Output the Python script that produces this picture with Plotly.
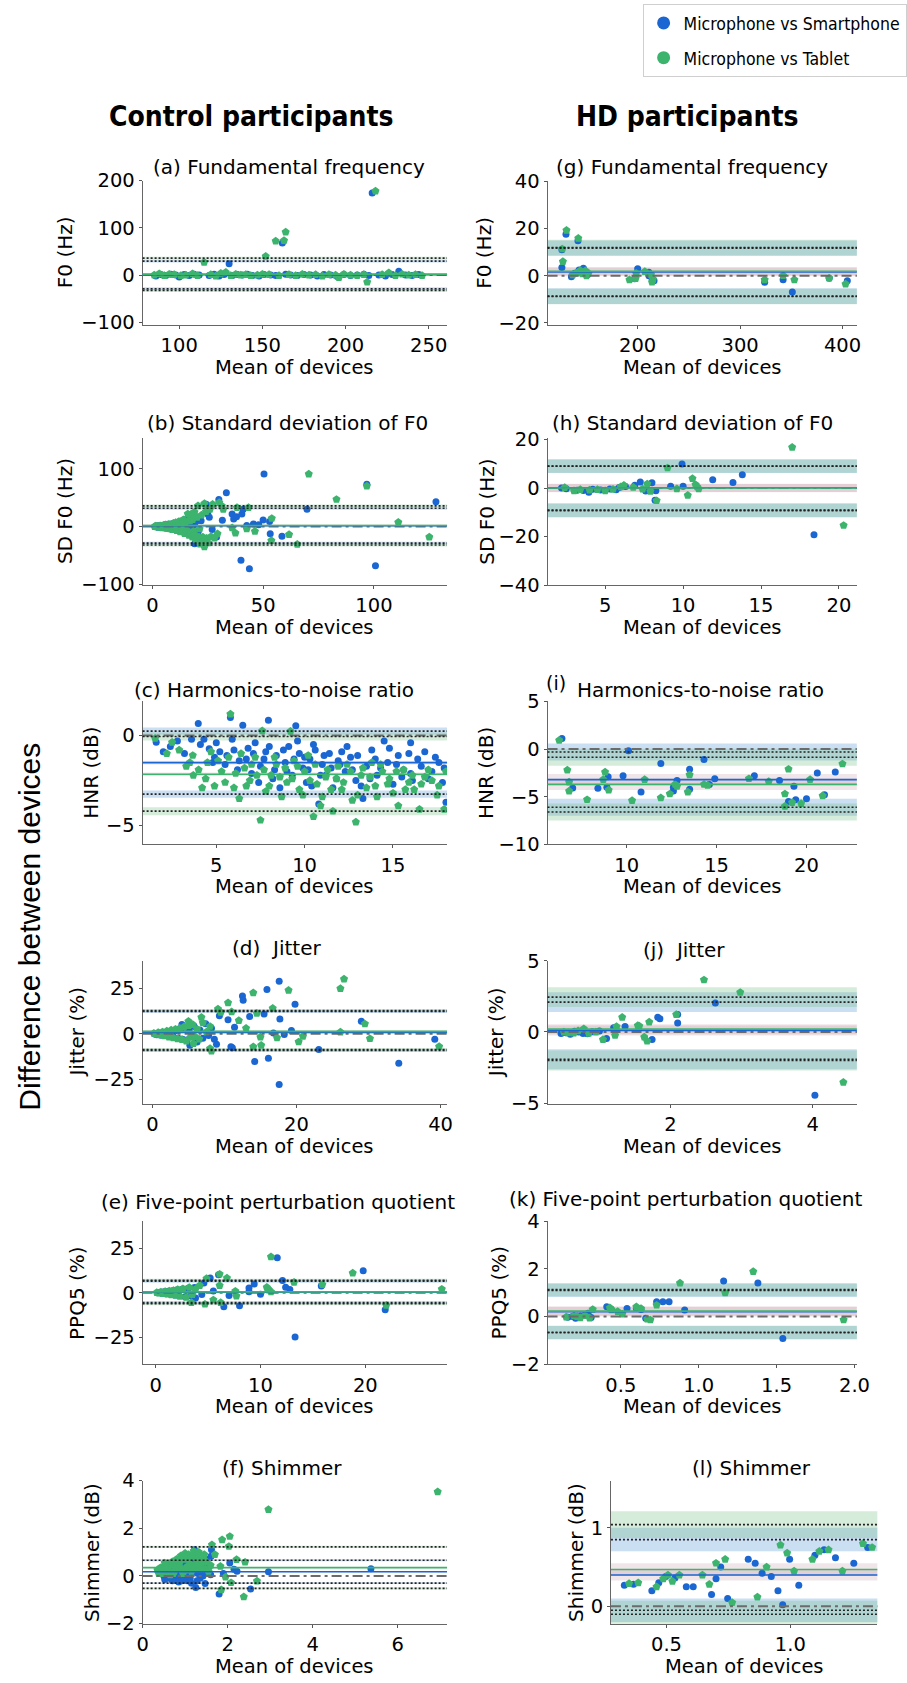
import plotly.graph_objects as go

# ---------------- DATA ----------------
# (mean of devices, difference) pairs; stats = [mean, lower LoA, upper LoA, CI half-width of mean, CI half-width of LoA]
a_smart = [(86,-2),(89,1),(92,-1),(95,2),(98,0),(100,-4),(103,1),(106,-1),(109,2),(112,0),(118,-1),(121,2),(124,-2),(127,1),(130,24),(132,-1),(135,1),(138,0),(141,2),(144,-1),(148,-2),(151,1),(155,0),(158,-1),(162,68),(164,2),(167,0),(171,-1),(175,1),(179,0),(183,-2),(187,1),(191,0),(195,-3),(199,1),(203,-1),(207,0),(211,2),(214,-1),(216,174),(220,0),(224,-2),(228,1),(232,8),(236,0),(240,-1),(244,1)]
a_tablet = [(85,0),(88,3),(91,-1),(94,2),(97,1),(101,-1),(104,0),(108,3),(111,-1),(115,27),(119,1),(122,-2),(125,4),(128,6),(131,-1),(134,2),(137,0),(140,1),(143,-1),(147,0),(150,2),(152,40),(154,1),(158,72),(160,-1),(163,73),(164,91),(166,1),(170,-1),(174,2),(178,0),(182,1),(186,-2),(190,1),(194,0),(196,-5),(199,2),(203,0),(207,-1),(211,1),(213,-15),(218,178),(222,1),(226,5),(230,-1),(234,2),(238,0),(242,1),(246,-1)]
a_smart_stats = [0.6, -29.0, 29.5, 1.8, 3.0]
a_tablet_stats = [2.0, -32.5, 36.0, 2.0, 3.0]

b_smart = [(1.5,0),(2,1),(2.2,-0.5),(2.5,-1),(3,0.5),(3.2,1),(3.5,2),(4,-1.5),(4.2,0.5),(4.5,1),(5,-2),(5.2,-1),(5.5,3),(6,0),(6.2,1.5),(6.5,-3),(7,4),(7.2,-2),(7.5,-1),(8,2),(8.2,-1),(8.5,-4),(9,5),(9.2,3),(9.5,1),(10,-3),(10.2,2),(10.5,6),(11,0),(11.2,-3),(11.5,-6),(12,8),(12.2,-2),(12.5,3),(13,-5),(13.2,4),(13.5,10),(14,-2),(14.2,-6),(14.5,12),(15,-8),(15.2,7),(15.5,4),(16,14),(16.2,-4),(16.5,-10),(17,6),(17.2,9),(17.5,-14),(18,16),(18.2,-9),(18.5,2),(19.1,-29.5),(19.2,6),(19.5,-20),(20,10),(20.5,-12),(21,-6),(21.5,14),(22,10),(22.5,-25),(23.5,-32),(24.3,38.6),(25,21.6),(25.7,16),(26,35),(27,-5),(29,-18),(30,47),(31.6,11),(33.4,58.5),(36,21.6),(36.7,13),(38,17),(40,-58),(40.4,21.6),(41,30),(42.6,1.7),(43.8,-73),(45.6,4.5),(48,3),(50,11.4),(50.4,91),(52.9,9),(53.2,-12.5),(58.5,-16.5),(69.8,30),(96.8,73),(100.7,-67.6),(128,43)]
b_tablet = [(1,0),(1.5,1),(2,-0.5),(2.2,0.8),(2.5,0.5),(3,-1),(3.2,-0.6),(3.5,1.5),(4,0),(4.2,1),(4.5,-2),(5,2),(5.2,-1.5),(5.5,-1),(6,3),(6.2,2),(6.5,-3),(7,1),(7.2,-2.5),(7.5,4),(8,-4),(8.2,3),(8.5,2),(9,-5),(9.2,-1),(9.5,6),(10,-2),(10.2,4),(10.5,7),(11,-7),(11.2,-4),(11.5,3),(12,9),(12.2,5),(12.5,-9),(13,5),(13.2,-7),(13.5,-4),(14,12),(14.2,6),(14.5,-12),(15,8),(15.2,-9),(15.5,-6),(16,22),(16.2,10),(16.5,-15),(17,10),(17.2,-11),(17.6,21.6),(18,-18),(18.2,12),(18.5,-8),(19,25),(19.2,-14),(19.5,-22),(20.2,16),(20.6,36),(21.2,-18),(21.3,-4),(21.5,-30),(22.2,20),(22.8,-18),(23.2,-24),(23.5,40),(23.5,-35),(24.2,26),(24.5,-20),(25.2,-28),(26,30),(26.5,-17),(27.2,38.6),(28,-20),(29.4,-12.5),(30.2,41.5),(31.3,35.8),(32,30),(36,-2),(37.5,-11),(38.2,33),(42.6,-4),(43.4,33),(46.3,-8),(53.7,-24),(53.9,14.2),(61.7,-13.6),(65.4,-30.7),(70.6,91),(83.1,47),(96.8,70),(111,7.4),(125,-18)]
b_smart_stats = [1.5, -28.5, 31.8, 1.5, 2.5]
b_tablet_stats = [2.0, -31.8, 35.8, 1.5, 2.5]

c_smart = [(1.6,-0.37),(2.0,-0.9),(2.4,-0.6),(2.8,-0.3),(3.2,-1.0),(3.6,-0.2),(3.98,0.68),(4.1,-0.5),(4.3,-0.2),(4.6,-0.73),(4.8,-1.5),(4.9,-1.2),(5.0,-0.4),(5.2,-0.9),(5.5,-1.6),(5.6,-1.1),(5.8,1.0),(5.9,-0.2),(6.0,-0.8),(6.2,-1.9),(6.3,-1.4),(6.5,0.58),(6.7,-1.3),(6.8,-0.7),(7.0,-2.1),(7.1,-1.0),(7.2,-0.4),(7.4,-2.6),(7.5,-1.7),(7.7,-1.3),(7.8,-0.9),(7.95,0.86),(8.0,-0.6),(8.2,-2.4),(8.3,-1.9),(8.4,-1.1),(8.6,-2.9),(8.8,-0.8),(8.9,-1.5),(9.0,-2.0),(9.1,-0.6),(9.3,-2.2),(9.4,-1.3),(9.5,0.55),(9.6,-0.3),(9.7,-1.0),(9.9,-1.8),(10.0,-1.2),(10.1,-2.6),(10.2,-1.9),(10.3,-1.3),(10.4,-2.8),(10.5,-0.5),(10.6,-0.8),(10.8,-3.8),(10.9,-2.2),(11.0,-1.6),(11.1,-1.1),(11.2,-2.2),(11.4,-1.0),(11.5,-1.8),(11.6,-2.9),(11.8,-2.4),(11.9,-1.4),(12.0,-1.6),(12.1,-0.9),(12.3,-2.0),(12.4,-0.6),(12.6,-1.2),(12.7,-1.9),(12.9,-2.5),(13.0,-1.1),(13.2,-2.8),(13.3,-3.5),(13.5,-1.7),(13.7,-2.4),(13.8,-0.8),(14.0,-1.3),(14.1,-2.2),(14.3,-1.8),(14.5,-0.3),(14.7,-1.5),(14.8,-0.7),(15.0,-2.7),(15.2,-1.6),(15.3,-1.1),(15.5,-2.3),(15.6,-1.9),(15.9,-1.0),(16.0,-0.4),(16.0,-2.1),(16.1,-2.5),(16.4,-1.3),(16.6,-1.7),(16.8,-0.9),(17.0,-2.4),(17.2,-2.0),(17.4,-1.2),(17.6,-1.5),(17.8,-2.6),(17.9,-1.8),(18.0,-3.7)]
c_tablet = [(1.54,-0.15),(2.2,-1.0),(2.5,-0.37),(2.9,-0.8),(3.3,-1.7),(3.5,-1.5),(3.67,-1.1),(3.7,-2.2),(4.0,-1.9),(4.2,-2.9),(4.4,-2.4),(4.5,-1.5),(4.7,-0.9),(4.9,-2.8),(5.1,-1.4),(5.3,-2.0),(5.5,-2.6),(5.7,-1.2),(5.8,1.2),(6.0,-2.9),(6.1,-2.1),(6.3,-3.5),(6.4,-1.0),(6.6,-1.8),(6.7,-2.8),(6.9,-2.5),(7.0,-1.6),(7.2,-1.2),(7.3,-2.2),(7.5,-4.7),(7.6,0.27),(7.7,-1.9),(7.8,-3.1),(8.0,-2.8),(8.1,-2.2),(8.3,-1.2),(8.4,-1.6),(8.6,-2.3),(8.7,-3.4),(8.9,-1.8),(9.0,-2.6),(9.2,0.24),(9.3,-2.4),(9.4,-1.4),(9.6,-1.7),(9.7,-3.0),(9.9,-3.3),(10.0,-2.0),(10.2,-1.1),(10.3,-2.5),(10.5,-4.5),(10.6,-1.6),(10.7,-2.7),(10.9,-3.9),(11.0,-3.4),(11.2,-2.3),(11.3,-1.9),(11.5,-3.0),(11.6,-4.2),(11.8,-2.4),(11.9,-1.7),(12.1,-3.0),(12.2,-2.6),(12.4,-1.6),(12.6,-2.0),(12.7,-3.6),(12.9,-4.8),(13.0,-3.3),(13.2,-2.2),(13.3,-1.8),(13.5,-2.9),(13.7,-2.3),(13.8,-1.5),(14.0,-2.8),(14.1,-3.4),(14.3,-1.6),(14.4,-2.0),(14.7,-2.7),(14.8,-2.4),(15.0,-3.2),(15.2,-2.0),(15.3,-3.9),(15.6,-1.9),(15.7,-3.0),(15.9,-2.6),(16.1,-2.2),(16.2,-3.0),(16.5,-4.1),(16.6,-2.7),(16.8,-2.3),(17.0,-1.9),(17.2,-2.5),(17.5,-3.3),(17.6,-2.8),(17.9,-4.1),(18.0,-2.0)]
c_smart_stats = [-1.5, -3.25, 0.25, 0.1, 0.2]
c_tablet_stats = [-2.15, -4.2, -0.05, 0.1, 0.22]

d_smart = [(0.3,0),(0.6,-0.5),(0.9,0.4),(1.2,-0.8),(1.5,0.6),(1.8,-1),(2.1,1.2),(2.4,-1.5),(2.7,0.8),(3,-2),(3.3,1.8),(3.6,-2.5),(3.9,2.5),(4.1,5),(4.2,-3),(4.5,3.5),(4.8,-3.5),(5.1,1.5),(5.2,-6.3),(5.5,-1),(5.8,4),(6.2,-4.5),(6.6,2),(7,-2.5),(7.4,5.5),(7.8,-1),(8.2,3),(8.6,-3),(8.9,-5.8),(9.3,9.9),(10.5,7.6),(10.9,-7.2),(11.1,-7.7),(11.4,3.6),(12.5,20.7),(12.6,18.4),(13.5,9.4),(14.2,-15.3),(15.5,10.8),(15.9,24.3),(16.1,-13.5),(16.8,0.4),(17.6,28.8),(17.6,-27.9),(17.7,8.1),(18.3,-0.4),(19.3,1.8),(19.8,16.2),(23.1,-8.6),(29,6.8),(34.2,-16.2),(39.2,-3)]
d_tablet = [(0.2,0.2),(0.5,-0.3),(0.8,0.6),(1.1,-0.6),(1.4,1),(1.7,-1.2),(2,1.5),(2.3,-1.8),(2.6,2),(2.9,-2.2),(3.2,2.5),(3.5,-2.8),(3.8,3),(4.1,-3.2),(4.4,3.8),(4.7,-4),(5,4.5),(5,6.8),(5.3,-2),(5.6,5),(5.7,-5.4),(5.9,-1.5),(6.2,2.5),(6.5,-3),(6.8,9),(7,6),(7.5,1),(8,4),(8,-8.1),(8.2,-9.5),(9.1,13.5),(9.5,11.8),(10.5,17),(11,12),(12,7.2),(13,3),(14,22.5),(14,-7.2),(14.5,11.2),(15,-1.8),(15.1,-6.3),(16.7,14),(17.3,-2.2),(18.9,23.8),(20.3,-4.5),(20.9,-1.4),(26.1,24.8),(26.1,0.9),(26.6,30),(29.5,5.4),(30.2,-2.7),(39.8,-7)]
d_smart_stats = [0.7, -9.2, 12.2, 0.6, 0.8]
d_tablet_stats = [1.3, -8.7, 12.7, 0.6, 0.8]

e_smart = [(0.2,0),(0.4,0.3),(0.6,-0.4),(0.8,0.5),(1.0,-0.6),(1.2,0.8),(1.4,-0.9),(1.6,1.1),(1.8,-1.2),(2.0,1.5),(2.2,-1.6),(2.5,2),(2.8,-2.2),(3.1,2.5),(3.4,-1.8),(3.7,3),(3.8,-3),(4.4,-1),(4.6,5.5),(5.2,8.2),(5.5,1),(6.0,10),(6.5,-7.9),(7.0,-1.5),(8,-7.3),(8.9,2.7),(8.9,0.5),(9.4,4.9),(10,-0.9),(11.6,19.6),(12.1,6.8),(12.4,3.1),(12.8,1.8),(13.3,-24.7),(15.8,3.7),(19.8,12.3),(21.9,-9.5)]
e_tablet = [(0.1,0.1),(0.3,-0.2),(0.5,0.4),(0.7,-0.5),(0.9,0.7),(1.1,-0.8),(1.3,1),(1.5,-1.1),(1.7,1.3),(1.9,-1.4),(2.1,1.8),(2.3,-2),(2.6,2.3),(2.9,-2.6),(3.2,3),(3.4,-5.5),(3.5,-1),(3.8,2),(4.2,4),(4.7,-6.4),(4.85,7.9),(5.5,-4),(6.1,10.4),(6.1,4),(6.2,-5.5),(6.8,8.2),(7.6,0.9),(7.7,-1.8),(10.6,3.1),(10.7,2.2),(10.8,1.5),(11.0,0.5),(11.0,20.1),(13.2,5.9),(15.9,4.6),(18.8,11),(22.0,-7),(27.3,2)]
e_smart_stats = [0.3, -5.5, 6.4, 0.4, 0.8]
e_tablet_stats = [0.5, -6.2, 7.0, 0.4, 0.8]

f_smart = [(0.4,0.2),(0.45,0.15),(0.5,0.0),(0.52,-0.15),(0.55,0.35),(0.58,0.1),(0.6,-0.1),(0.62,0.3),(0.65,0.25),(0.68,0.05),(0.7,-0.2),(0.72,0.35),(0.75,0.4),(0.78,-0.15),(0.8,0.05),(0.82,0.2),(0.85,-0.25),(0.88,0.05),(0.9,0.3),(0.92,-0.2),(0.95,-0.1),(0.98,0.25),(1.0,0.5),(1.02,0.05),(1.05,-0.2),(1.08,0.35),(1.1,0.2),(1.12,-0.1),(1.15,-0.3),(1.18,0.15),(1.2,0.6),(1.22,1.1),(1.25,-0.48),(1.28,-0.2),(1.3,0.1),(1.33,0.3),(1.35,-0.1),(1.4,0.4),(1.42,0),(1.45,0.15),(1.47,-0.32),(1.5,0.7),(1.55,0.35),(1.6,0.05),(1.61,0.83),(1.62,1.1),(1.8,-0.76),(1.9,0.1),(2.05,0.55),(2.15,0.28),(2.22,0.2),(2.54,-0.55),(2.96,0.18),(5.37,0.3)]
f_tablet = [(0.35,0.25),(0.38,0.1),(0.42,0.35),(0.45,0.1),(0.48,0.2),(0.5,0.4),(0.52,0.55),(0.55,0.15),(0.58,0.3),(0.6,0.5),(0.62,0.2),(0.65,0.05),(0.68,0.45),(0.7,0.6),(0.72,0.1),(0.75,0.2),(0.78,0.5),(0.8,0.7),(0.82,0.35),(0.85,0.3),(0.88,0.6),(0.9,0.85),(0.92,0.3),(0.95,0.1),(0.98,0.7),(1.0,0.95),(1.02,0.25),(1.05,0.4),(1.08,0.9),(1.1,0.75),(1.12,0.5),(1.15,0.2),(1.18,0.8),(1.2,1.05),(1.22,0.3),(1.25,0.5),(1.28,0.65),(1.3,0.9),(1.32,1.0),(1.35,0.3),(1.38,0.5),(1.4,0.7),(1.45,0.9),(1.48,0.3),(1.5,0.6),(1.55,0.2),(1.6,0.45),(1.63,1.31),(1.7,0.9),(1.83,0.41),(1.85,-0.58),(1.87,1.52),(1.95,-0.04),(2.03,1.24),(2.05,1.66),(2.08,-0.28),(2.21,0.69),(2.38,-0.87),(2.41,0.58),(2.69,-0.21),(2.96,2.79),(6.94,3.53)]
f_smart_stats = [0.18, -0.3, 0.66, 0.02, 0.04]
f_tablet_stats = [0.35, -0.52, 1.22, 0.03, 0.05]

g_smart = [(126,11),(126,3.5),(130,17.6),(135.3,-0.4),(138.6,1.1),(141.7,14.8),(142.8,2.5),(144,1.5),(147,3.2),(151,0.4),(197,-1.3),(200,3),(210.9,1.5),(211,0),(214,-1),(216,-2.1),(324,-2.7),(342,-1.7),(351,-6.9),(387,-1),(404.7,-2.1)]
g_tablet = [(126.3,11.4),(127,6),(130.5,19.3),(136.6,0.4),(140,1.2),(142,15.9),(144,2.2),(146,0.8),(149,2.1),(150,0),(152,1.1),(192,-1.7),(198,-1.2),(198.6,1.1),(207,1.8),(213,0.5),(214,-2.7),(215,-1.5),(324,-1.7),(342,0.1),(353,-1.7),(387,-1),(403,-3.5)]
g_smart_stats = [1.6, -8.6, 11.7, 1.8, 3.3]
g_tablet_stats = [1.9, -8.8, 12.0, 1.8, 3.3]

h_smart = [(2.2,0),(2.5,-0.3),(3.2,-0.9),(3.6,-1.0),(3.95,-1.7),(4.2,-0.5),(4.7,-0.8),(5.3,-0.4),(5.7,-0.7),(5.9,0.2),(6.3,0.6),(6.9,1.1),(7.25,2.5),(7.6,-1.2),(8.0,2.2),(8.2,-5.0),(8.25,-1.1),(9.2,0.7),(9.93,9.9),(10.0,0.7),(11.9,3.4),(13.2,2.3),(13.8,5.5),(18.4,-19.3)]
h_tablet = [(2.4,0.2),(3.0,-1.1),(3.4,-0.6),(4.0,-0.8),(4.5,-0.6),(5.0,-1.1),(5.5,-0.5),(6.0,0.5),(6.2,1.1),(6.8,0.3),(7.4,-0.4),(7.7,1.7),(7.9,-1.3),(8.3,-5.2),(9.0,8.3),(9.6,-0.3),(10.3,-3),(10.6,3.9),(10.8,1.4),(10.9,0.5),(11.0,-0.3),(17.0,16.8),(20.3,-15.4)]
h_smart_stats = [0.1, -9.1, 9.0, 1.7, 2.8]
h_tablet_stats = [0.0, -9.3, 9.1, 1.7, 2.8]

i_smart = [(6.4,1.1),(7.0,-4.07),(8.4,-4.1),(8.9,-4.0),(8.97,-2.9),(9.8,-2.8),(10.1,-0.17),(10.8,-4.5),(11.9,-1.5),(12.6,-4.4),(12.6,-4.0),(12.8,-3.3),(13.5,-2.1),(13.5,-4.2),(14.3,-1.1),(14.6,-3.7),(14.9,-3.1),(17.1,-2.8),(18.5,-3.3),(19.0,-5.5),(19.3,-3.9),(19.4,-5.3),(20.0,-5.2),(20.6,-2.5),(21.0,-4.8),(21.6,-2.4)]
i_tablet = [(6.25,0.93),(6.7,-2.2),(6.8,-3.45),(6.8,-4.4),(7.8,-5.3),(8.7,-3.2),(8.8,-2.4),(9.0,-4.3),(10.3,-5.4),(11.0,-3.2),(11.9,-5.1),(12.4,-4.7),(12.7,-3.7),(12.8,-3.9),(13.4,-4.5),(13.5,-2.7),(14.3,-3.7),(14.5,-3.8),(16.8,-3.1),(17.9,-3.4),(18.8,-4.7),(18.8,-6.0),(19.0,-2.1),(19.2,-5.6),(19.7,-5.7),(20.2,-3.2),(20.9,-4.9),(22.0,-1.55)]
i_smart_stats = [-3.2, -6.1, -0.3, 0.6, 0.9]
i_tablet_stats = [-3.7, -6.6, -0.85, 0.6, 0.9]

j_smart = [(0.46,-0.1),(0.53,-0.05),(0.59,-0.16),(0.65,0.05),(0.71,0),(0.77,-0.1),(0.83,-0.12),(0.9,0.02),(1.0,0.07),(1.1,-0.46),(1.2,0.3),(1.36,0.39),(1.74,-0.53),(1.82,1.04),(1.85,0.93),(2.1,1.23),(2.1,0.63),(2.63,2.04),(4.03,-4.44)]
j_tablet = [(0.5,0),(0.56,-0.05),(0.64,-0.07),(0.7,0.08),(0.78,0.23),(0.85,-0.1),(0.95,0.0),(1.05,-0.53),(1.22,-0.23),(1.24,0.39),(1.32,1.04),(1.54,0.46),(1.56,0.42),(1.63,-0.35),(1.67,-0.63),(1.7,0.7),(2.08,1.23),(2.47,3.66),(2.98,2.78),(4.43,-3.54)]
j_smart_stats = [0.1, -1.92, 2.1, 0.35, 0.7]
j_tablet_stats = [0.2, -2.0, 2.45, 0.35, 0.7]

k_smart = [(0.16,-0.03),(0.19,0.0),(0.21,-0.07),(0.24,0.02),(0.27,0.07),(0.29,0.14),(0.31,-0.04),(0.41,0.41),(0.44,0.3),(0.54,0.34),(0.6,0.34),(0.63,0.3),(0.66,-0.07),(0.73,0.62),(0.77,0.62),(0.81,0.62),(0.91,0.28),(1.16,1.49),(1.38,1.41),(1.54,-0.92)]
k_tablet = [(0.15,-0.02),(0.2,0.03),(0.22,0.0),(0.24,-0.05),(0.27,0.04),(0.3,-0.06),(0.32,0.3),(0.43,0.37),(0.44,0.28),(0.48,0.21),(0.51,0.11),(0.6,0.41),(0.63,0.34),(0.67,-0.1),(0.69,-0.14),(0.73,0.48),(0.88,1.41),(1.17,1.0),(1.35,1.89),(1.93,-0.14)]
k_smart_stats = [0.2, -0.66, 1.1, 0.2, 0.28]
k_tablet_stats = [0.23, -0.68, 1.13, 0.2, 0.28]

l_smart = [(0.33,0.27),(0.367,0.28),(0.441,0.2),(0.469,0.3),(0.497,0.38),(0.534,0.36),(0.58,0.25),(0.608,0.25),(0.682,0.15),(0.7,0.35),(0.719,0.5),(0.747,0.1),(0.83,0.6),(0.858,0.55),(0.886,0.42),(0.923,0.38),(0.95,0.2),(0.969,0.02),(0.997,0.6),(1.034,0.27),(1.099,0.65),(1.136,0.72),(1.182,0.62),(1.256,0.55),(1.312,0.75)]
l_tablet = [(0.349,0.29),(0.386,0.3),(0.46,0.25),(0.487,0.35),(0.506,0.4),(0.524,0.32),(0.552,0.4),(0.645,0.4),(0.673,0.28),(0.7,0.55),(0.737,0.6),(0.765,0.05),(0.867,0.12),(0.904,0.5),(0.96,0.78),(0.987,0.68),(1.015,0.45),(1.089,0.6),(1.117,0.7),(1.154,0.72),(1.21,0.45),(1.293,0.8),(1.33,0.75)]
l_smart_stats = [0.4, -0.05, 0.85, 0.07, 0.15]
l_tablet_stats = [0.47, -0.1, 1.04, 0.08, 0.17]

panel_titles = ["(a) Fundamental frequency", "(b) Standard deviation of F0", "(c) Harmonics-to-noise ratio",
                "(d)  Jitter", "(e) Five-point perturbation quotient", "(f) Shimmer",
                "(g) Fundamental frequency", "(h) Standard deviation of F0", "Harmonics-to-noise ratio",
                "(j)  Jitter", "(k) Five-point perturbation quotient", "(l) Shimmer"]
y_labels = ["F0 (Hz)", "SD F0 (Hz)", "HNR (dB)", "Jitter (%)", "PPQ5 (%)", "Shimmer (dB)"] * 2
x_label = "Mean of devices"
x_ticks = [[100,150,200,250],[0,50,100],[5,10,15],[0,20,40],[0,10,20],[0,2,4,6],
           [200,300,400],[5,10,15,20],[10,15,20],[2,4],[0.5,1.0,1.5,2.0],[0.5,1.0]]
y_ticks = [[-100,0,100,200],[-100,0,100],[-5,0],[-25,0,25],[-25,0,25],[-2,0,2,4],
           [-20,0,20,40],[-40,-20,0,20],[-10,-5,0,5],[-5,0,5],[-2,0,2,4],[0,1]]
x_ranges = [[78,261],[-4.4,133],[0.83,18.06],[-1.36,40.9],[-1.25,27.8],[0,7.16],
            [112,414],[1.3,21.15],[5.6,22.8],[0.27,4.62],[0.03,2.015],[0.276,1.351]]
y_ranges = [[-105,200],[-101,153],[-6.05,1.9],[-38.5,40],[-40,40],[-2,4],
            [-20.7,40.3],[-40,20.6],[-10,5],[-5.05,5],[-2,4],[-0.22,1.6]]
series_names = ["Microphone vs Smartphone", "Microphone vs Tablet"]
col_headers = ["Control participants", "HD participants"]
side_label = "Difference between devices"

smart_data = [a_smart, b_smart, c_smart, d_smart, e_smart, f_smart, g_smart, h_smart, i_smart, j_smart, k_smart, l_smart]
tablet_data = [a_tablet, b_tablet, c_tablet, d_tablet, e_tablet, f_tablet, g_tablet, h_tablet, i_tablet, j_tablet, k_tablet, l_tablet]
smart_stats = [a_smart_stats, b_smart_stats, c_smart_stats, d_smart_stats, e_smart_stats, f_smart_stats,
               g_smart_stats, h_smart_stats, i_smart_stats, j_smart_stats, k_smart_stats, l_smart_stats]
tablet_stats = [a_tablet_stats, b_tablet_stats, c_tablet_stats, d_tablet_stats, e_tablet_stats, f_tablet_stats,
                g_tablet_stats, h_tablet_stats, i_tablet_stats, j_tablet_stats, k_tablet_stats, l_tablet_stats]

# ---------------- LAYOUT GEOMETRY (pixels) ----------------
W, H = 907, 1683
BLUE = "#1a66d2"
GREEN = "#3cb46e"
FONT = "DejaVu Sans"
COND = "DejaVu Sans Condensed, Liberation Sans Narrow, DejaVu Sans"

rows_px = [(172, 318), (433, 582), (700, 845), (963, 1108), (1227, 1372), (1490, 1635)]
# axis boxes (x0, x1, ytop, ybottom) in pixels
boxes = [(140, 452) + rows_px[r] for r in range(6)] + \
        [(555, 872) + rows_px[r] for r in range(5)] + [(620, 893) + rows_px[5]]
title_pos = [(290, 158), (289, 418), (275, 688), (277, 950), (279, 1207), (283, 1477),
             (703, 158), (704, 418), (712, 688), (695, 952), (696, 1204), (764, 1477)]
ylab_x = [60, 60, 87, 73, 73, 88, 490, 492, 492, 503, 505, 584]


def px(x):
    return x / W


def py(y):
    return 1 - y / H


fig = go.Figure()
shapes = []
annotations = []
layout_axes = {}

band_blue = "rgba(70,140,210,0.28)"
band_green = "rgba(90,180,110,0.25)"
band_mean = "rgba(170,110,130,0.18)"

for i in range(12):
    n = i + 1
    (x0, x1, yt, yb) = boxes[i]
    xa = "x" if n == 1 else f"x{n}"
    ya = "y" if n == 1 else f"y{n}"
    xkey = "xaxis" if n == 1 else f"xaxis{n}"
    ykey = "yaxis" if n == 1 else f"yaxis{n}"
    tickfmt = dict(ticks="outside", ticklen=3, tickcolor="#555", showline=True, linecolor="#666",
                   linewidth=1, showgrid=False, zeroline=False, tickfont=dict(size=19.5, color="black", family=FONT))
    xt = x_ticks[i]
    layout_axes[xkey] = dict(domain=[px(x0), px(x1)], anchor=ya, range=x_ranges[i], tickvals=xt,
                             ticktext=[("%.1f" % v) if isinstance(v, float) else str(v) for v in xt], **tickfmt)
    layout_axes[ykey] = dict(domain=[py(yb), py(yt)], anchor=xa, range=y_ranges[i], tickvals=y_ticks[i], **tickfmt)

    # confidence bands (below the points)
    for st, bc in ((smart_stats[i], band_blue), (tablet_stats[i], band_green)):
        mean, lo, hi, cim, cil = st
        for c, hw, colr in ((hi, cil, bc), (lo, cil, bc), (mean, cim, band_mean)):
            shapes.append(dict(type="rect", xref=f"{xa} domain", yref=ya, x0=0, x1=1, y0=c - hw, y1=c + hw,
                               fillcolor=colr, line=dict(width=0), layer="below"))

    # points
    for data, colr, sym, sz, nm in ((smart_data[i], BLUE, "circle", 7, series_names[0]),
                                    (tablet_data[i], GREEN, "pentagon", 8.5, series_names[1])):
        fig.add_trace(go.Scatter(x=[p[0] for p in data], y=[p[1] for p in data], mode="markers",
                                 marker=dict(color=colr, symbol=sym, size=sz, line=dict(width=0)),
                                 xaxis=xa, yaxis=ya, showlegend=False, name=nm, hoverinfo="x+y"))

    # reference lines (above)
    shapes.append(dict(type="line", xref=f"{xa} domain", yref=ya, x0=0, x1=1, y0=0, y1=0,
                       line=dict(color="#6b6b6b", width=2, dash="10px,4px,3px,4px"), layer="above"))
    for st, colr in ((smart_stats[i], BLUE), (tablet_stats[i], GREEN)):
        mean, lo, hi, cim, cil = st
        for v in (lo, hi):
            shapes.append(dict(type="line", xref=f"{xa} domain", yref=ya, x0=0, x1=1, y0=v, y1=v,
                               line=dict(color="#222", width=1.6, dash="2px,2px"), layer="above"))
        shapes.append(dict(type="line", xref=f"{xa} domain", yref=ya, x0=0, x1=1, y0=mean, y1=mean,
                           line=dict(color=colr, width=1.6), layer="above"))

    # texts
    tx, ty = title_pos[i]
    annotations.append(dict(text=panel_titles[i], x=px(tx), y=py(ty), xref="paper", yref="paper",
                            xanchor="center", yanchor="middle", showarrow=False,
                            font=dict(size=20, family=FONT, color="black")))
    annotations.append(dict(text=x_label, x=px((x0 + x1) / 2), y=py(yb + 43), xref="paper", yref="paper",
                            xanchor="center", yanchor="middle", showarrow=False,
                            font=dict(size=19.5, family=FONT, color="black")))
    annotations.append(dict(text=y_labels[i], x=px(ylab_x[i]), y=py((yt + yb) / 2), xref="paper", yref="paper",
                            xanchor="center", yanchor="middle", showarrow=False, textangle=-90,
                            font=dict(size=20, family=FONT, color="black")))

# the raised "(i)" label of panel (i)
annotations.append(dict(text="(i)", x=px(564), y=py(681), xref="paper", yref="paper", xanchor="center",
                        yanchor="middle", showarrow=False, font=dict(size=19, family=FONT, color="black")))

# column headers and side label
annotations.append(dict(text="<b>" + col_headers[0] + "</b>", x=px(252), y=py(107), xref="paper", yref="paper",
                        xanchor="center", yanchor="middle", showarrow=False,
                        font=dict(size=28, family=COND, color="black")))
annotations.append(dict(text="<b>" + col_headers[1] + "</b>", x=px(698), y=py(107), xref="paper", yref="paper",
                        xanchor="center", yanchor="middle", showarrow=False,
                        font=dict(size=28, family=COND, color="black")))
annotations.append(dict(text=side_label, x=px(24), y=py(928), xref="paper", yref="paper", xanchor="center",
                        yanchor="middle", showarrow=False, textangle=-90,
                        font=dict(size=30, family="Liberation Sans, Arial", color="black")))

# legend entries
fig.add_trace(go.Scatter(x=[None], y=[None], mode="markers", name=series_names[0], legendgroup="s",
                         marker=dict(color=BLUE, symbol="circle", size=13), xaxis="x", yaxis="y"))
fig.add_trace(go.Scatter(x=[None], y=[None], mode="markers", name=series_names[1], legendgroup="t",
                         marker=dict(color=GREEN, symbol="circle", size=13), xaxis="x", yaxis="y"))

fig.update_layout(
    width=W, height=H, margin=dict(l=0, r=0, t=0, b=0),
    paper_bgcolor="white", plot_bgcolor="white",
    font=dict(family=FONT, size=20, color="black"),
    shapes=shapes, annotations=annotations,
    showlegend=True,
    legend=dict(x=1.0 + 16 / W, xanchor="right", y=1.0 + 7 / H, yanchor="top", bgcolor="white",
                bordercolor="#cfcfcf", borderwidth=1, tracegroupgap=9,
                font=dict(size=17.5, family=COND, color="black")),
    **layout_axes,
)

fig.write_html("out.html")
